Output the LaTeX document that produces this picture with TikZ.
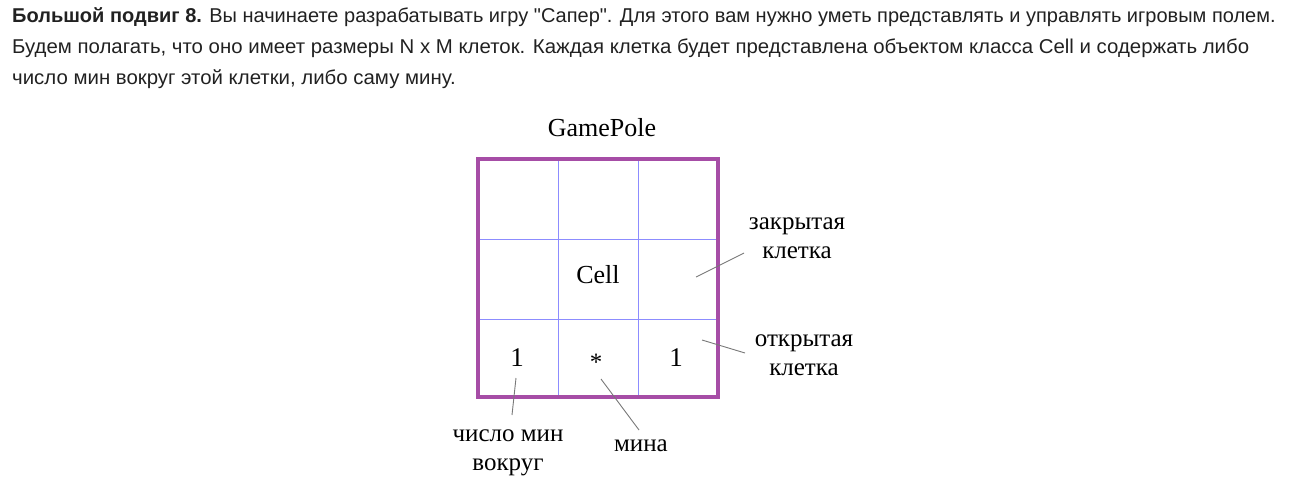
\documentclass[tikz,border=0pt]{standalone}
\usepackage{fontspec}
\setmainfont{Liberation Serif}
\newfontfamily\hdrfont{Liberation Sans}
\definecolor{polecol}{RGB}{166,77,166}
\definecolor{gridcol}{RGB}{140,140,255}
\definecolor{leadcol}{RGB}{120,120,120}
\definecolor{hdrcol}{RGB}{33,33,33}
\tikzset{
  hdr/.style={anchor=west, inner sep=0pt, text=hdrcol, font=\hdrfont\fontsize{20}{24}\selectfont},
  lbl/.style={inner sep=0pt, font=\fontsize{25}{29}\selectfont, align=center},
  digit/.style={inner sep=0pt, font=\fontsize{27}{29}\selectfont},
  lead/.style={draw=leadcol, line width=0.9pt},
}
\begin{document}
\begin{tikzpicture}[x=1pt,y=-1pt]
\useasboundingbox (0,0) rectangle (1291,498);
\node[hdr] (h1) at (12,17) {\textbf{Большой подвиг 8.} Вы начинаете разрабатывать игру "Сапер". Для этого вам нужно уметь представлять и управлять игровым полем.};
\node[hdr] (h2) at (12,48) {\scalebox{1.02}[1]{Будем полагать, что оно имеет размеры N x M клеток. Каждая клетка будет представлена объектом класса Cell и содержать либо}};
\node[hdr] (h3) at (12,79) {\scalebox{1.02}[1]{число мин вокруг этой клетки, либо саму мину.}};
% grid
\draw[gridcol, line width=0.8pt] (558,158) -- (558,398) (638,158) -- (638,398)
  (478,239) -- (718,239) (478,319) -- (718,319);
\draw[polecol, line width=3.5pt] (478,159) rectangle (718,397);
\node[lbl, font=\fontsize{26}{29}\selectfont] (title) at (602,128) {GamePole};
\node[lbl, font=\fontsize{26}{29}\selectfont] (cell) at (598,275) {Cell};
\node[digit] (n1) at (517,358) {1};
\node[lbl] (mine) at (596,362) {*};
\node[digit] (n2) at (676,358) {1};
\node[lbl] (closed) at (797,238) {закрытая\\клетка};
\node[lbl] (open) at (804,355) {открытая\\клетка};
\node[lbl] (count) at (508,453) {число мин\\вокруг};
\node[lbl] (minelbl) at (641,446) {мина};
\coordinate (c1) at (696,277); \coordinate (c2) at (744,253);
\coordinate (o1) at (702,340); \coordinate (o2) at (745,353);
\coordinate (k1) at (516,378); \coordinate (k2) at (512,415);
\coordinate (m1) at (601,379); \coordinate (m2) at (639,430);
\draw[lead] (c1) -- (c2);
\draw[lead] (o1) -- (o2);
\draw[lead] (k1) -- (k2);
\draw[lead] (m1) -- (m2);
\end{tikzpicture}
\end{document}
